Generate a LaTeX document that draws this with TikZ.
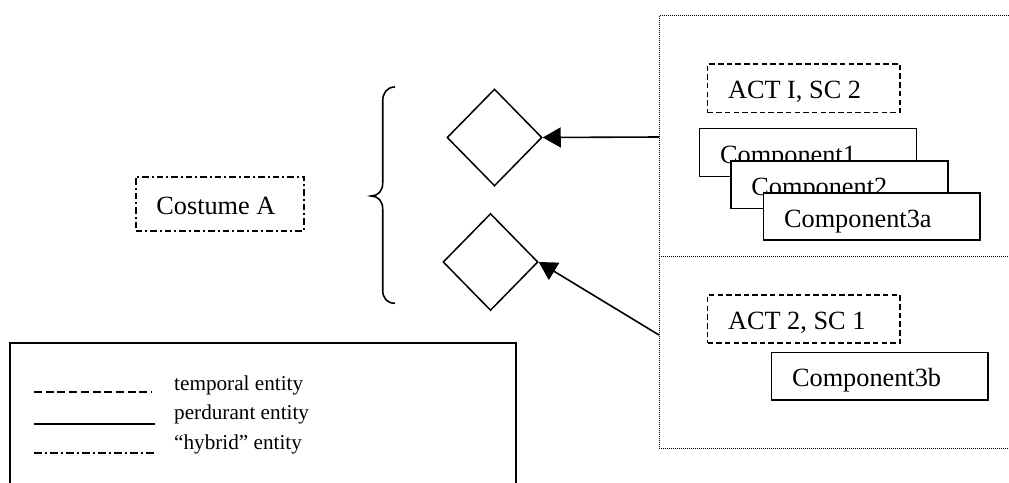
\documentclass[tikz,border=0pt]{standalone}
\usepackage{fontspec}
\setmainfont{Liberation Serif}
\usetikzlibrary{shapes.geometric,arrows.meta}
\tikzset{
  boxbase/.style={rectangle, draw, line width=1.7pt, fill=white, inner xsep=20.5pt, inner ysep=0pt,
    text height=23pt, text depth=2pt, font=\fontsize{26.3}{30}\selectfont},
  perdurant/.style={boxbase},
  temporal/.style={boxbase, dash pattern=on 5.5pt off 3.2pt},
  hybrid/.style={boxbase, dash pattern=on 6.5pt off 3pt on 2pt off 3pt},
  relation/.style={diamond, draw, line width=1.5pt, inner sep=0pt, minimum width=95pt, minimum height=97pt},
  frameline/.style={line width=1pt, dash pattern=on 1pt off 1pt},
  conn/.style={line width=1.6pt, -{Triangle[length=18pt,width=20pt]}},
  legtext/.style={anchor=base west, inner sep=0pt, font=\fontsize{21.2}{24}\selectfont},
}
\begin{document}
\begin{tikzpicture}[x=1pt,y=-1pt]
\useasboundingbox (0,0) rectangle (1009,482);
% Costume A
\node[hybrid, minimum height=54pt, anchor=north west] (costume) at (135,176) {\makebox[127pt][l]{Costume A}};
% brace
\draw[line width=1.6pt] (395,87) .. controls (387,87) and (382.7,93) .. (382.7,101)
  -- (382.7,183) .. controls (382.7,191) and (378,196) .. (371,196)
  .. controls (378,196) and (382.7,201) .. (382.7,209)
  -- (382.7,290) .. controls (382.7,298) and (387,303.3) .. (395,303.3);
% diamonds
\node[relation] (d1) at (494.5,137.5) {};
\node[relation] (d2) at (490.5,262) {};
% dotted frame
\draw[frameline] (1009,15.7) -| (659,448) -- (1009,448);
\draw[frameline] (659,256) -- (1009,256);
\coordinate (p1) at (659,137);
\coordinate (p2) at (659,335);
\draw[conn] (p1) -- (d1.east);
\draw[conn] (p2) -- (d2.east);
% scene 1
\node[temporal, minimum height=48.4pt, anchor=north west] (act1) at (706.7,63.3) {\makebox[151.6pt][l]{ACT I, SC 2}};
\node[perdurant, minimum height=48pt, anchor=north west] (c1) at (698.7,127.7) {\makebox[176pt][l]{Component1}};
\node[perdurant, minimum height=47.7pt, anchor=north west] (c2) at (730,160) {\makebox[176pt][l]{Component2}};
\node[perdurant, minimum height=47.3pt, anchor=north west] (c3a) at (762.7,192) {\makebox[175.6pt][l]{Component3a}};
% scene 2
\node[temporal, minimum height=48pt, anchor=north west] (act2) at (706.7,294.3) {\makebox[151.6pt][l]{ACT 2, SC 1}};
\node[perdurant, minimum height=47.6pt, anchor=north west] (c3b) at (770.7,351.7) {\makebox[175.3pt][l]{Component3b}};
% legend
\draw[line width=1.7pt] (10.3,483) |- (515.7,343.3) -- (515.7,483);
\draw[line width=1.6pt, dash pattern=on 8pt off 3.7pt] (34,391.7) -- (152,391.7);
\draw[line width=1.6pt] (34,424) -- (155,424);
\draw[line width=1.6pt, dash pattern=on 8pt off 3pt on 2pt off 3pt] (34,453) -- (155,453);
\node[legtext] (l1) at (174,390) {temporal entity};
\node[legtext] (l2) at (174,419.5) {perdurant entity};
\node[legtext] (l3) at (174,449) {“hybrid” entity};
\end{tikzpicture}
\end{document}
